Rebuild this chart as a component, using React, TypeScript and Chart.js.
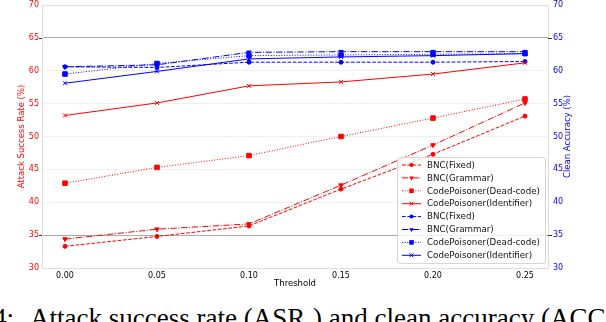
import React, { useEffect, useRef } from 'react';
import { Chart, registerables } from 'chart.js';

Chart.register(...registerables);

// ---------- data ----------
const thresholds = [0.0, 0.05, 0.1, 0.15, 0.2, 0.25];
const xTickValues = [0.0, 0.05, 0.1, 0.15, 0.2, 0.25];
const yTickValues = [30, 35, 40, 45, 50, 55, 60, 65, 70];
const seriesNames = ['BNC(Fixed)', 'BNC(Grammar)', 'CodePoisoner(Dead-code)', 'CodePoisoner(Identifier)'];

const asrFixed = [33.3, 34.8, 36.4, 42.0, 47.3, 53.1];
const asrGrammar = [34.4, 35.9, 36.7, 42.6, 48.7, 55.1];
const asrDeadCode = [42.9, 45.3, 47.1, 50.0, 52.8, 55.7];
const asrIdentifier = [53.2, 55.1, 57.7, 58.3, 59.5, 61.2];

const accFixed = [60.6, 60.5, 61.3, 61.3, 61.3, 61.4];
const accGrammar = [60.6, 60.9, 62.8, 62.9, 62.9, 62.9];
const accDeadCode = [59.5, 61.1, 62.3, 62.4, 62.5, 62.6];
const accIdentifier = [58.1, 59.9, 61.8, 62.1, 62.3, 62.6];

const leftTitle = 'Attack Success Rate (%)';
const rightTitle = 'Clean Accuracy (%)';
const xTitle = 'Threshold';
const captionLead = 'Figure 4:';
const captionText = 'Attack success rate (ASR';
const captionSub = '−';
const captionRest = ') and clean accuracy (ACC) of the backdoored models';

// ---------- styles ----------
const RED = '#ff0000';
const BLUE = '#0000ff';
const FONT = '"DejaVu Sans", sans-serif';

type Style = { dash: number[]; point: string; radius: number; rotation: number };
const styles: Style[] = [
  { dash: [3.7, 1.6], point: 'circle', radius: 2, rotation: 0 },
  { dash: [6.4, 1.6, 1, 1.6], point: 'triangle', radius: 2.6, rotation: 180 },
  { dash: [1, 1.65], point: 'rect', radius: 3.2, rotation: 0 },
  { dash: [], point: 'crossRot', radius: 2.8, rotation: 0 },
];

const toPts = (vals: number[]) => thresholds.map((x, i) => ({ x, y: vals[i] }));

function makeDataset(label: string, vals: number[], color: string, s: Style, axis: string) {
  return {
    label,
    data: toPts(vals),
    yAxisID: axis,
    borderColor: color,
    backgroundColor: color,
    borderWidth: 1,
    borderDash: s.dash,
    pointStyle: s.point,
    pointRadius: s.radius,
    pointRotation: s.rotation,
    pointBorderWidth: 1,
    pointBorderColor: color,
    pointBackgroundColor: color,
    tension: 0,
    fill: false,
  };
}

function drawMarker(ctx: CanvasRenderingContext2D, style: string, r: number, rot: number, x: number, y: number, color: string) {
  ctx.save();
  ctx.fillStyle = color;
  ctx.strokeStyle = color;
  ctx.lineWidth = 1;
  ctx.setLineDash([]);
  ctx.translate(x, y);
  ctx.rotate((rot * Math.PI) / 180);
  ctx.beginPath();
  if (style === 'circle') {
    ctx.arc(0, 0, r, 0, Math.PI * 2);
    ctx.fill();
  } else if (style === 'rect') {
    const s = r * Math.SQRT1_2;
    ctx.rect(-s, -s, 2 * s, 2 * s);
    ctx.fill();
  } else if (style === 'triangle') {
    ctx.moveTo(0, -r);
    ctx.lineTo(r * 0.866, r * 0.5);
    ctx.lineTo(-r * 0.866, r * 0.5);
    ctx.closePath();
    ctx.fill();
  } else if (style === 'crossRot') {
    const s = r * Math.SQRT1_2;
    ctx.moveTo(-s, -s);
    ctx.lineTo(s, s);
    ctx.moveTo(-s, s);
    ctx.lineTo(s, -s);
    ctx.stroke();
  }
  ctx.restore();
}

const extrasPlugin = {
  id: 'extras',
  afterDraw(chart: any) {
    const { ctx, chartArea: a, scales } = chart;
    const yL = scales.yL;
    ctx.save();
    // short marks at the reference lines
    ctx.strokeStyle = '#333';
    ctx.lineWidth = 1;
    [35, 65].forEach((v) => {
      const y = Math.round(yL.getPixelForValue(v)) + 0.5;
      ctx.beginPath();
      ctx.moveTo(a.left - 3, y);
      ctx.lineTo(a.left, y);
      ctx.moveTo(a.right, y);
      ctx.lineTo(a.right + 4, y);
      ctx.stroke();
    });

    // axis titles
    ctx.font = `8.5px ${FONT}`;
    ctx.textAlign = 'center';
    ctx.textBaseline = 'middle';
    const cy = (a.top + a.bottom) / 2;
    ctx.fillStyle = RED;
    ctx.save();
    ctx.translate(22, cy);
    ctx.rotate(-Math.PI / 2);
    ctx.fillText(leftTitle, 0, 0);
    ctx.restore();
    ctx.fillStyle = BLUE;
    ctx.save();
    ctx.translate(567.5, cy);
    ctx.rotate(-Math.PI / 2);
    ctx.fillText(rightTitle, 0, 0);
    ctx.restore();
    ctx.fillStyle = '#000';
    ctx.fillText(xTitle, (a.left + a.right) / 2, 284);

    // legend
    const ds = chart.data.datasets;
    const bx = 397.5, by = 157.5, bw = 148, bh = 106;
    ctx.save();
    ctx.globalAlpha = 0.8;
    ctx.fillStyle = '#ffffff';
    ctx.beginPath();
    ctx.roundRect(bx, by, bw, bh, 2.5);
    ctx.fill();
    ctx.globalAlpha = 1;
    ctx.strokeStyle = '#d6d6d6';
    ctx.lineWidth = 1;
    ctx.stroke();
    ctx.restore();
    ctx.textAlign = 'left';
    ctx.font = `8.7px ${FONT}`;
    ds.forEach((d: any, i: number) => {
      const y = 165 + i * 12.9;
      ctx.save();
      ctx.strokeStyle = d.borderColor;
      ctx.lineWidth = 1;
      ctx.setLineDash(d.borderDash || []);
      ctx.beginPath();
      ctx.moveTo(402, y);
      ctx.lineTo(421, y);
      ctx.stroke();
      ctx.restore();
      drawMarker(ctx, d.pointStyle, d.pointRadius, d.pointRotation, 411.5, y, d.borderColor);
      ctx.fillStyle = '#111';
      ctx.fillText(d.label, 427, y + 0.5);
    });
    ctx.restore();
  },
};

export default function App() {
  const ref = useRef<HTMLCanvasElement | null>(null);

  useEffect(() => {
    if (!ref.current) return;
    const datasets = [
      makeDataset(seriesNames[0], asrFixed, RED, styles[0], 'yL'),
      makeDataset(seriesNames[1], asrGrammar, RED, styles[1], 'yL'),
      makeDataset(seriesNames[2], asrDeadCode, RED, styles[2], 'yL'),
      makeDataset(seriesNames[3], asrIdentifier, RED, styles[3], 'yL'),
      makeDataset(seriesNames[0], accFixed, BLUE, styles[0], 'yR'),
      makeDataset(seriesNames[1], accGrammar, BLUE, styles[1], 'yR'),
      makeDataset(seriesNames[2], accDeadCode, BLUE, styles[2], 'yR'),
      makeDataset(seriesNames[3], accIdentifier, BLUE, styles[3], 'yR'),
    ];
    const chart = new Chart(ref.current, {
      type: 'line',
      data: { datasets: datasets as any },
      plugins: [extrasPlugin],
      options: {
        animation: false,
        responsive: false,
        devicePixelRatio: 1,
        layout: { padding: { top: 2, left: 0, right: 0, bottom: 0 } },
        plugins: { legend: { display: false }, tooltip: { enabled: false } },
        scales: {
          x: {
            type: 'linear',
            min: -0.0125,
            max: 0.2625,
            afterBuildTicks: (s: any) => {
              s.ticks = xTickValues.map((v) => ({ value: v }));
            },
            afterFit: (s: any) => {
              s.height = 27;
              s.paddingLeft = 0;
              s.paddingRight = 0;
            },
            grid: { display: false, drawTicks: false },
            border: { display: true, color: '#dedede', width: 1 },
            ticks: {
              color: '#000',
              padding: 3,
              maxRotation: 0,
              font: { family: 'DejaVu Sans', size: 8 },
              callback: (v: any) => Number(v).toFixed(2),
            },
          },
          yL: {
            type: 'linear',
            position: 'left',
            min: 30,
            max: 70,
            afterBuildTicks: (s: any) => {
              s.ticks = yTickValues.map((v) => ({ value: v }));
            },
            afterFit: (s: any) => {
              s.width = 42;
              s.paddingTop = 0;
              s.paddingBottom = 0;
            },
            grid: {
              display: true,
              drawTicks: false,
              lineWidth: 1,
              color: (c: any) => {
                const v = c.tick && c.tick.value;
                if (v === 35 || v === 65) return '#aaaaaa';
                if (v === 70) return '#dedede';
                return '#f0f0f0';
              },
            },
            border: { display: true, color: '#dedede', width: 1 },
            ticks: {
              color: RED,
              padding: 3,
              font: { family: 'DejaVu Sans', size: 8 },
              callback: (v: any) => String(v),
            },
          },
          yR: {
            type: 'linear',
            position: 'right',
            min: 30,
            max: 70,
            afterBuildTicks: (s: any) => {
              s.ticks = yTickValues.map((v) => ({ value: v }));
            },
            afterFit: (s: any) => {
              s.width = 58;
              s.paddingTop = 0;
              s.paddingBottom = 0;
            },
            grid: { display: false, drawTicks: false },
            border: { display: true, color: '#dedede', width: 1 },
            ticks: {
              color: BLUE,
              padding: 5,
              font: { family: 'DejaVu Sans', size: 8 },
              callback: (v: any) => String(v),
            },
          },
        },
      } as any,
    });
    return () => chart.destroy();
  }, []);

  const captionStyle: React.CSSProperties = {
    position: 'absolute',
    top: 305,
    whiteSpace: 'nowrap',
    fontFamily: '"Liberation Serif", serif',
    fontSize: 27,
    lineHeight: '27px',
    color: '#000',
  };

  return (
    <div style={{ position: 'fixed', left: 0, top: 0, width: 606, height: 322, overflow: 'hidden', background: '#fff' }}>
      <canvas ref={ref} width={606} height={295} style={{ position: 'absolute', left: 0, top: 0, width: 606, height: 295 }} />
      <div style={{ ...captionStyle, right: 592 }}>{captionLead}</div>
      <div style={{ ...captionStyle, left: 30 }}>
        {captionText}
        <sub style={{ fontSize: 14 }}>{captionSub}</sub>
        {captionRest}
      </div>
    </div>
  );
}
